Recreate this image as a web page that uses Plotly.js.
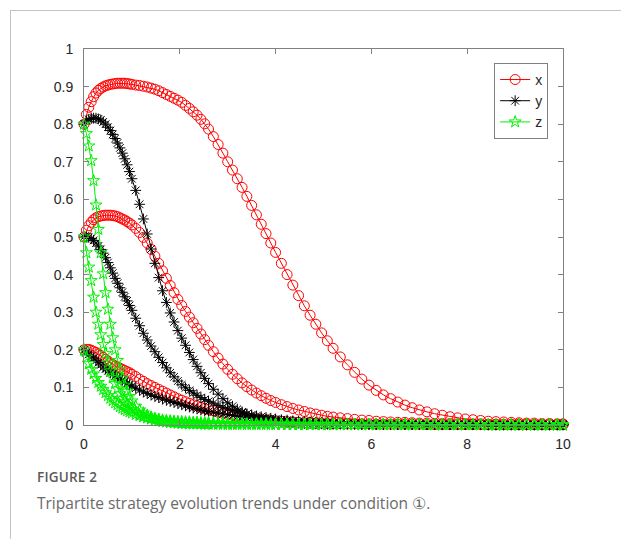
<!DOCTYPE html>
<html>
<head>
<meta charset="utf-8">
<script src="https://cdn.plot.ly/plotly-3.0.1.min.js"></script>
<style>
html,body{margin:0;padding:0;background:#fff;}
#frame{position:absolute;left:10px;top:10px;width:620px;height:540px;border-left:1px solid #c4c4c4;border-top:1px solid #c4c4c4;}
#chart{position:absolute;left:0;top:0;width:621px;height:539px;}
#figlabel{position:absolute;left:37px;top:468px;font-family:"Open Sans","Noto Sans",sans-serif;font-size:13.5px;font-weight:600;color:#5a5a5a;letter-spacing:0.2px;}
#caption{position:absolute;left:37px;top:492px;font-family:"Open Sans","Noto Sans",sans-serif;font-size:15.5px;color:#6a6a6a;}
</style>
</head>
<body>
<div id="frame"></div>
<div id="chart"></div>
<div id="figlabel">FIGURE 2</div>
<div id="caption">Tripartite strategy evolution trends under condition ①.</div>
<script>
// time points (shared by all runs)
var t = [0,0.05,0.1,0.15,0.2,0.25,0.3,0.35,0.4,0.45,0.5,0.55,0.6,0.65,0.7,0.75,0.8,0.85,0.9,0.95,1.0,
 1.08,1.16,1.24,1.32,1.4,1.48,1.56,1.64,1.72,1.8,1.88,1.96,2.04,2.12,2.2,2.28,2.36,2.44,2.52,2.6,2.7,2.8,2.9,3.0,
 3.1,3.2,3.3,3.4,3.5,3.6,3.7,3.8,3.9,4.0,4.12,4.24,4.36,4.48,4.6,4.72,4.84,4.96,5.08,5.2,
 5.35,5.5,5.65,5.8,5.95,6.1,6.25,6.4,6.55,6.7,6.85,7.0,7.16,7.32,7.48,7.64,7.8,7.96,8.12,8.28,
 8.44,8.6,8.76,8.92,9.08,9.24,9.4,9.56,9.72,9.88,10];

// initial value 0.8
var x08 = [0.800,0.826,0.845,0.860,0.873,0.883,0.890,0.895,0.899,0.902,0.904,0.906,0.907,0.908,0.909,0.909,0.909,0.909,0.908,0.907,0.906,
 0.904,0.903,0.901,0.899,0.896,0.893,0.889,0.884,0.879,0.874,0.869,0.864,0.858,0.850,0.842,0.833,0.824,0.813,0.801,0.787,0.767,0.746,0.723,0.700,
 0.678,0.655,0.632,0.608,0.584,0.559,0.534,0.509,0.484,0.459,0.430,0.400,0.372,0.344,0.317,0.292,0.268,0.245,0.224,0.204,
 0.181,0.160,0.140,0.122,0.106,0.092,0.080,0.070,0.061,0.053,0.046,0.040,0.035,0.030,0.026,0.022,0.019,0.016,0.014,0.012,
 0.010,0.009,0.008,0.007,0.006,0.005,0.005,0.004,0.004,0.003,0.003];
var y08 = [0.800,0.809,0.813,0.815,0.816,0.816,0.814,0.811,0.806,0.800,0.792,0.783,0.773,0.762,0.750,0.737,0.723,0.708,0.692,0.674,0.655,
 0.624,0.587,0.548,0.508,0.468,0.430,0.392,0.357,0.326,0.298,0.274,0.251,0.231,0.212,0.193,0.174,0.156,0.139,0.124,0.110,0.095,0.082,0.070,0.059,
 0.050,0.042,0.035,0.029,0.024,0.020,0.017,0.014,0.012,0.010,0.008,0.007,0.006,0.005,0.004,0.004,0.003,0.003,0.002,0.002,
 0.002,0.002,0.002,0.001,0.001,0.001,0.001,0.001,0.001,0.001,0.001,0.001,0.001,0.001,0.001,0.001,0.001,0.001,0.001,0.001,
 0,0,0,0,0,0,0,0,0,0,0];
var z08 = [0.800,0.775,0.742,0.703,0.650,0.585,0.520,0.458,0.402,0.352,0.308,0.268,0.232,0.200,0.172,0.147,0.125,0.106,0.090,0.076,0.064,
 0.050,0.040,0.032,0.026,0.021,0.017,0.014,0.011,0.009,0.008,0.007,0.006,0.005,0.005,0.004,0.004,0.004,0.003,0.003,0.003,0.003,0.003,0.002,0.002,
 0.002,0.002,0.002,0.002,0.002,0.002,0.002,0.002,0.002,0.002,0.002,0.002,0.002,0.001,0.001,0.001,0.001,0.001,0.001,0.001,
 0.001,0.001,0.001,0.001,0.001,0.001,0.001,0.001,0.001,0.001,0.001,0.001,0.001,0.001,0.001,0.001,0.001,0.001,0.001,0.001,
 0,0,0,0,0,0,0,0,0,0,0];

// initial value 0.5
var x05 = [0.500,0.518,0.530,0.539,0.546,0.551,0.554,0.556,0.557,0.558,0.558,0.558,0.557,0.556,0.554,0.551,0.548,0.545,0.541,0.537,0.532,
 0.523,0.512,0.499,0.484,0.467,0.449,0.430,0.410,0.390,0.371,0.352,0.334,0.318,0.302,0.287,0.272,0.257,0.242,0.227,0.212,0.195,0.178,0.162,0.148,
 0.135,0.123,0.112,0.102,0.093,0.085,0.078,0.071,0.065,0.060,0.054,0.049,0.044,0.040,0.036,0.032,0.029,0.026,0.023,0.021,
 0.019,0.017,0.015,0.013,0.012,0.010,0.009,0.008,0.007,0.007,0.006,0.005,0.005,0.004,0.004,0.004,0.003,0.003,0.003,0.003,
 0.002,0.002,0.002,0.002,0.002,0.002,0.001,0.001,0.001,0.001,0.001];
var y05 = [0.500,0.500,0.499,0.496,0.491,0.484,0.476,0.467,0.457,0.445,0.432,0.418,0.404,0.390,0.377,0.365,0.353,0.341,0.330,0.318,0.305,
 0.284,0.264,0.244,0.226,0.210,0.195,0.180,0.166,0.152,0.139,0.128,0.117,0.107,0.099,0.092,0.085,0.079,0.073,0.068,0.063,0.058,0.052,0.047,0.043,
 0.039,0.035,0.032,0.029,0.027,0.024,0.022,0.020,0.018,0.016,0.014,0.013,0.011,0.010,0.009,0.008,0.007,0.006,0.006,0.005,
 0.004,0.004,0.003,0.003,0.003,0.003,0.002,0.002,0.002,0.002,0.002,0.002,0.001,0.001,0.001,0.001,0.001,0.001,0.001,0.001,
 0.001,0.001,0.001,0.001,0.001,0.001,0.001,0.001,0.001,0.001,0.001];
var z05 = [0.500,0.458,0.420,0.384,0.340,0.300,0.268,0.240,0.214,0.190,0.166,0.144,0.126,0.110,0.096,0.083,0.072,0.063,0.055,0.048,0.042,
 0.034,0.028,0.023,0.019,0.016,0.013,0.011,0.009,0.008,0.007,0.006,0.005,0.004,0.004,0.003,0.003,0.003,0.003,0.002,0.002,0.002,0.002,0.002,0.002,
 0.002,0.002,0.002,0.002,0.002,0.002,0.002,0.002,0.002,0.002,0.002,0.002,0.001,0.001,0.001,0.001,0.001,0.001,0.001,0.001,
 0.001,0.001,0.001,0.001,0.001,0.001,0.001,0.001,0.001,0.001,0.001,0.001,0.001,0.001,0.001,0.001,0.001,0.001,0.001,0.001,
 0,0,0,0,0,0,0,0,0,0,0];

// initial value 0.2
var x02 = [0.200,0.201,0.201,0.199,0.196,0.193,0.189,0.185,0.180,0.175,0.170,0.165,0.161,0.157,0.154,0.151,0.148,0.145,0.142,0.139,0.135,
 0.129,0.122,0.116,0.110,0.105,0.100,0.095,0.090,0.085,0.080,0.075,0.070,0.066,0.062,0.058,0.054,0.051,0.047,0.044,0.041,0.038,0.034,0.031,0.028,
 0.026,0.023,0.021,0.019,0.017,0.016,0.014,0.013,0.012,0.011,0.010,0.009,0.008,0.007,0.006,0.006,0.005,0.005,0.004,0.004,
 0.004,0.003,0.003,0.003,0.003,0.002,0.002,0.002,0.002,0.002,0.002,0.002,0.001,0.001,0.001,0.001,0.001,0.001,0.001,0.001,
 0.001,0.001,0.001,0.001,0.001,0.001,0.001,0.001,0.001,0.001,0.001];
var y02 = [0.200,0.194,0.188,0.183,0.178,0.172,0.166,0.160,0.154,0.149,0.144,0.139,0.135,0.131,0.127,0.123,0.119,0.115,0.111,0.107,0.104,
 0.098,0.093,0.088,0.084,0.080,0.076,0.073,0.069,0.066,0.063,0.060,0.057,0.054,0.051,0.048,0.045,0.043,0.040,0.038,0.036,0.034,0.031,0.029,0.027,
 0.025,0.023,0.021,0.019,0.018,0.016,0.015,0.014,0.013,0.012,0.011,0.010,0.009,0.008,0.007,0.007,0.006,0.005,0.005,0.005,
 0.004,0.004,0.004,0.003,0.003,0.003,0.003,0.002,0.002,0.002,0.002,0.002,0.002,0.002,0.001,0.001,0.001,0.001,0.001,0.001,
 0.001,0.001,0.001,0.001,0.001,0.001,0.001,0.001,0.001,0.001,0.001];
var z02 = [0.200,0.181,0.163,0.148,0.136,0.124,0.113,0.103,0.094,0.086,0.078,0.071,0.065,0.059,0.054,0.049,0.045,0.041,0.038,0.035,0.032,
 0.028,0.025,0.022,0.020,0.018,0.016,0.015,0.013,0.012,0.011,0.010,0.009,0.009,0.008,0.008,0.007,0.007,0.006,0.006,0.006,0.005,0.005,0.005,0.004,
 0.004,0.004,0.004,0.003,0.003,0.003,0.003,0.003,0.003,0.002,0.002,0.002,0.002,0.002,0.002,0.002,0.002,0.002,0.002,0.002,
 0.002,0.002,0.002,0.002,0.002,0.002,0.002,0.002,0.002,0.002,0.001,0.001,0.001,0.001,0.001,0.001,0.001,0.001,0.001,0.001,
 0.001,0.001,0.001,0.001,0.001,0.001,0.001,0.001,0.001,0.001,0.001];

var xTicks = [0,2,4,6,8,10];
var yTicks = [0,0.1,0.2,0.3,0.4,0.5,0.6,0.7,0.8,0.9,1];
var yTickText = ['0','0.1','0.2','0.3','0.4','0.5','0.6','0.7','0.8','0.9','1'];
var seriesNames = ['x','y','z'];

var styles = {
  x: {color:'#ff0000', symbol:'circle-open', size:10},
  y: {color:'#000000', symbol:'asterisk-open', size:9},
  z: {color:'#00f000', symbol:'star-open', size:9}
};
var groups = {x:[x08,x05,x02], y:[y08,y05,y02], z:[z08,z05,z02]};

var traces = [];
seriesNames.forEach(function(name){
  var st = styles[name];
  groups[name].forEach(function(vals, i){
    traces.push({
      type:'scatter', mode:'lines+markers', x:t, y:vals, name:name,
      legendgroup:name, showlegend: i===0, cliponaxis:false,
      line:{color:st.color, width:1},
      marker:{symbol:st.symbol, size:st.size, color:st.color, line:{color:st.color, width:1}}
    });
  });
});

var axisCommon = {
  showline:true, linecolor:'#808080', linewidth:1, mirror:'ticks',
  ticks:'inside', ticklen:5, tickcolor:'#808080', tickwidth:1,
  showgrid:false, zeroline:false, fixedrange:true,
  tickfont:{family:'Liberation Sans, Arial, sans-serif', size:14, color:'#262626'}
};

var layout = {
  width:621, height:539,
  margin:{l:84, r:58, t:49, b:114, pad:0},
  paper_bgcolor:'rgba(0,0,0,0)', plot_bgcolor:'#ffffff',
  showlegend:true,
  xaxis: Object.assign({}, axisCommon, {range:[0,10], tickvals:xTicks, ticktext:xTicks.map(String), ticklabelstandoff:6}),
  yaxis: Object.assign({}, axisCommon, {range:[0,1], tickvals:yTicks, ticktext:yTickText, ticklabelstandoff:7}),
  legend:{x:0.969, xanchor:'right', y:0.963, yanchor:'top', bgcolor:'#ffffff',
    bordercolor:'#808080', borderwidth:1, itemwidth:30, tracegroupgap:0,
    font:{family:'Liberation Sans, Arial, sans-serif', size:14, color:'#262626'}}
};

Plotly.newPlot('chart', traces, layout, {displayModeBar:false, staticPlot:true});
</script>
</body>
</html>
